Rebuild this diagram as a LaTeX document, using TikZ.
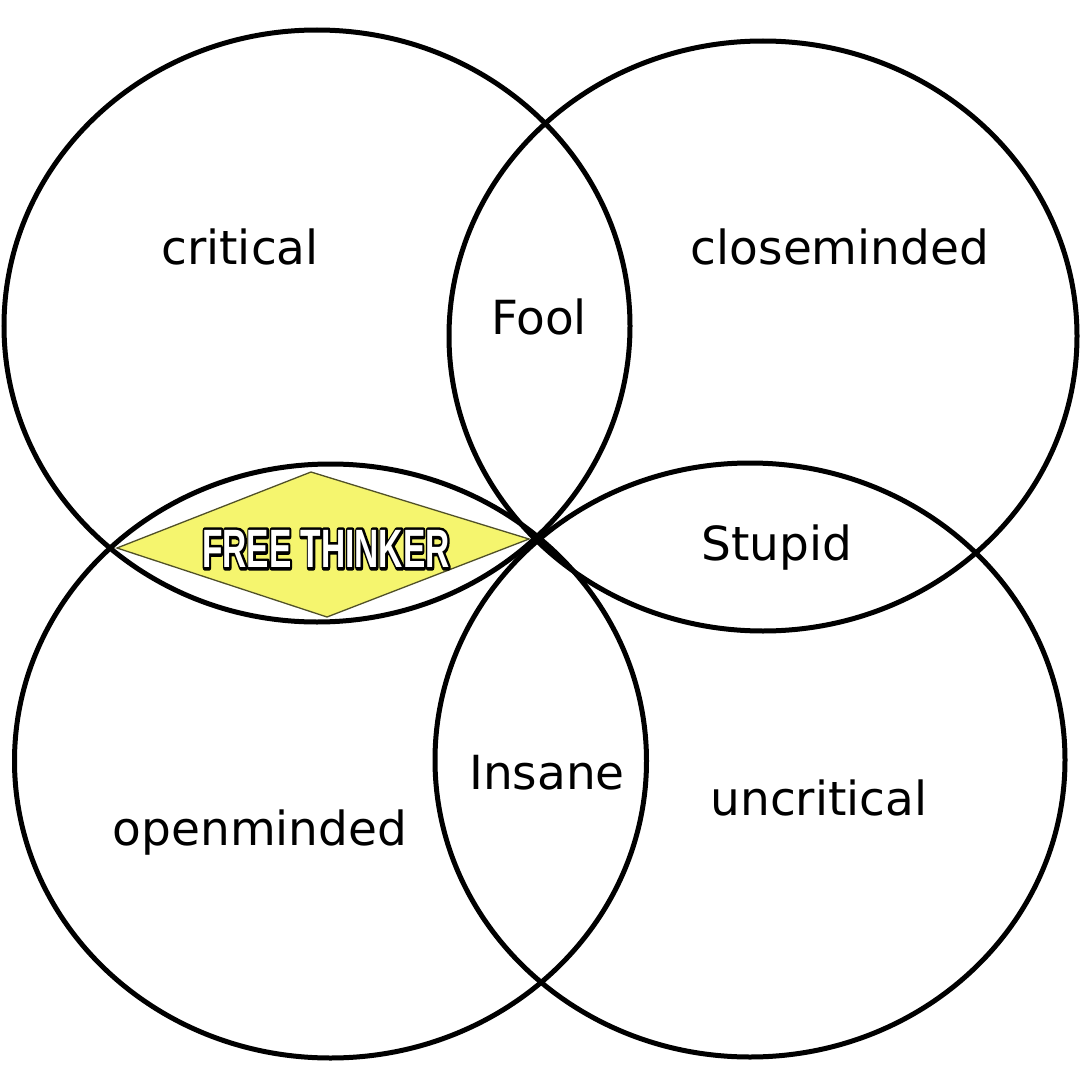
\documentclass[tikz,border=0pt]{standalone}
\usepackage{fontspec}
\usepackage{graphicx}
\setmainfont{DejaVu Sans}
\newfontfamily\ftfont{Liberation Sans}
\definecolor{ftyellow}{RGB}{245,245,110}
\definecolor{ftedge}{RGB}{80,80,40}
\newcommand{\fttext}{\ftfont\bfseries\fontsize{54}{54}\selectfont FREE THINKER}
\newcommand{\ftstroked}{\scalebox{0.62}[1]{\special{pdf:literal direct q 0 0 0 RG 0 0 0 rg 2 Tr 6 w 1 j}\fttext\special{pdf:literal direct Q}}}
\newcommand{\ftfilled}{\scalebox{0.62}[1]{\fttext}}
\begin{document}
\begin{tikzpicture}[x=1pt,y=-1pt,
  setline/.style={draw=black,line width=5pt},
  lbl/.style={font=\fontsize{47}{56}\selectfont, anchor=base, inner sep=0pt},
  ftnode/.style={inner sep=0pt, anchor=center}]
\useasboundingbox[fill=white] (0,0) rectangle (1080,1065);
% diamond
\coordinate (dl) at (117,548);
\coordinate (dt) at (311,472);
\coordinate (dr) at (529,539);
\coordinate (db) at (327,617);
\fill[ftyellow] (dl) -- (dt) -- (dr) -- (db) -- cycle;
\draw[ftedge, line width=1.3pt, line join=miter] (dl) -- (dt) -- (dr) -- (db) -- cycle;
% four sets
\draw[setline] (317,326) ellipse [x radius=313pt, y radius=296pt];
\draw[setline] (763,336) ellipse [x radius=314pt, y radius=295pt];
\draw[setline] (330.5,761) ellipse [x radius=316pt, y radius=297pt];
\draw[setline] (750,760) ellipse [x radius=315pt, y radius=297pt];
% labels
\node[lbl] (critical) at (240,264) {critical};
\node[lbl] (closeminded) at (840,264) {closeminded};
\node[lbl] (fool) at (539,334) {Fool};
\node[lbl] (stupid) at (777,560) {Stupid};
\node[lbl] (insane) at (547,789) {Insane};
\node[lbl] (uncritical) at (819,815) {uncritical};
\node[lbl] (openminded) at (260,845) {openminded};
% free thinker label: white letters with a black outline
\node[ftnode, text=white] (freethinker) at (326,549) {\rlap{\ftstroked}\ftfilled};
\end{tikzpicture}
\end{document}
